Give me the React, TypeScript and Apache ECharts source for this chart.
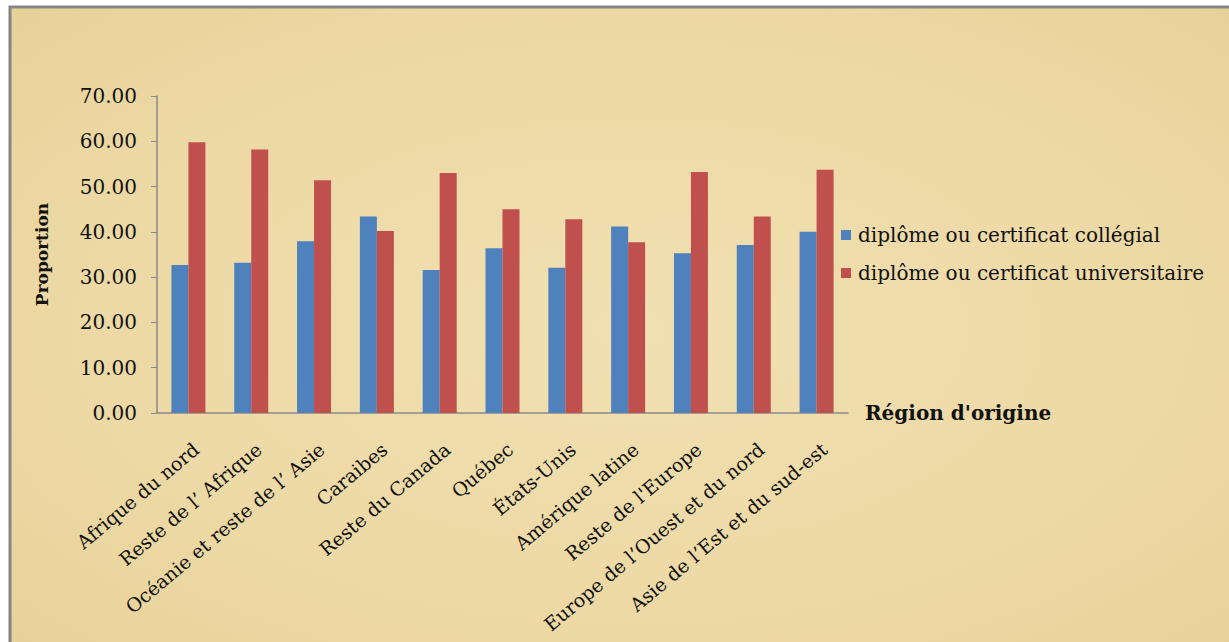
import React, { useEffect, useRef } from "react";
import * as echarts from "echarts";

const categories = [
  "Afrique du nord",
  "Reste de l’ Afrique",
  "Océanie et reste de l’ Asie",
  "Caraibes",
  "Reste du Canada",
  "Québec",
  "États-Unis",
  "Amérique latine",
  "Reste de l'Europe",
  "Europe de l’Ouest et du nord",
  "Asie de l’Est et du sud-est",
];
const seriesNames = [
  "diplôme ou certificat collégial",
  "diplôme ou certificat universitaire",
];
const collegial = [32.7, 33.2, 37.9, 43.4, 31.6, 36.4, 32.1, 41.2, 35.3, 37.1, 40.0];
const universitaire = [59.8, 58.2, 51.4, 40.2, 53.0, 45.0, 42.8, 37.7, 53.2, 43.4, 53.7];
const yMin = 0;
const yMax = 70;
const yStep = 10;

const FONT = "'DejaVu Serif', 'Liberation Serif', serif";

export default function App() {
  const ref = useRef<HTMLDivElement>(null);
  useEffect(() => {
    if (!ref.current) return;
    const chart = echarts.init(ref.current, null, { renderer: "svg" });
    chart.setOption({
      animation: false,
      backgroundColor: "#ffffff",
      graphic: [
        {
          type: "rect",
          z: -10,
          silent: true,
          shape: { x: 10, y: 7, width: 1240, height: 650 },
          style: {
            fill: new echarts.graphic.RadialGradient(0.5, 0.5, 0.8, [
              { offset: 0, color: "#f1e0b2" },
              { offset: 0.6, color: "#ecd8a3" },
              { offset: 1, color: "#e6cf95" },
            ]),
            stroke: "#858585",
            lineWidth: 3,
          },
        },
      ],
      grid: { left: 157, right: 381, top: 96, bottom: 229, containLabel: false },
      legend: {
        orient: "vertical",
        left: 836,
        top: 220,
        icon: "rect",
        itemWidth: 10,
        itemHeight: 10,
        itemGap: 18,
        textStyle: { fontFamily: FONT, fontSize: 20, color: "#111", padding: [0, 0, 0, 2] },
        data: seriesNames,
      },
      xAxis: {
        type: "category",
        data: categories,
        name: "Région d'origine",
        nameLocation: "end",
        nameGap: 17,
        nameTextStyle: { fontFamily: FONT, fontSize: 20, fontWeight: "bold", color: "#111", verticalAlign: "middle" },
        axisLine: { lineStyle: { color: "#8a8a8a", width: 1.5 } },
        axisTick: { show: false },
        axisLabel: {
          rotate: 40,
          interval: 0,
          margin: 40,
          padding: [0, -10, 0, 0],
          fontFamily: FONT,
          fontSize: 19,
          color: "#111",
        },
      },
      yAxis: {
        type: "value",
        min: yMin,
        max: yMax,
        interval: yStep,
        name: "Proportion",
        nameLocation: "middle",
        nameRotate: 90,
        nameGap: 107,
        nameTextStyle: { fontFamily: FONT, fontSize: 17, fontWeight: "bold", color: "#111" },
        axisLine: { show: true, lineStyle: { color: "#8a8a8a", width: 1.5 } },
        axisTick: { show: true, length: 6, lineStyle: { color: "#8a8a8a" } },
        splitLine: { show: false },
        axisLabel: {
          margin: 20,
          fontFamily: FONT,
          fontSize: 20,
          color: "#111",
          formatter: (v: number) => v.toFixed(2),
        },
      },
      series: [
        {
          name: seriesNames[0],
          type: "bar",
          data: collegial,
          barWidth: 17,
          barGap: "0%",
          itemStyle: { color: "#4f81bd" },
        },
        {
          name: seriesNames[1],
          type: "bar",
          data: universitaire,
          barWidth: 17,
          barGap: "0%",
          itemStyle: { color: "#c0504d" },
        },
      ],
    });
    return () => chart.dispose();
  }, []);
  return (
    <div
      ref={ref}
      style={{ position: "fixed", left: 0, top: 0, width: 1229, height: 642 }}
    />
  );
}
